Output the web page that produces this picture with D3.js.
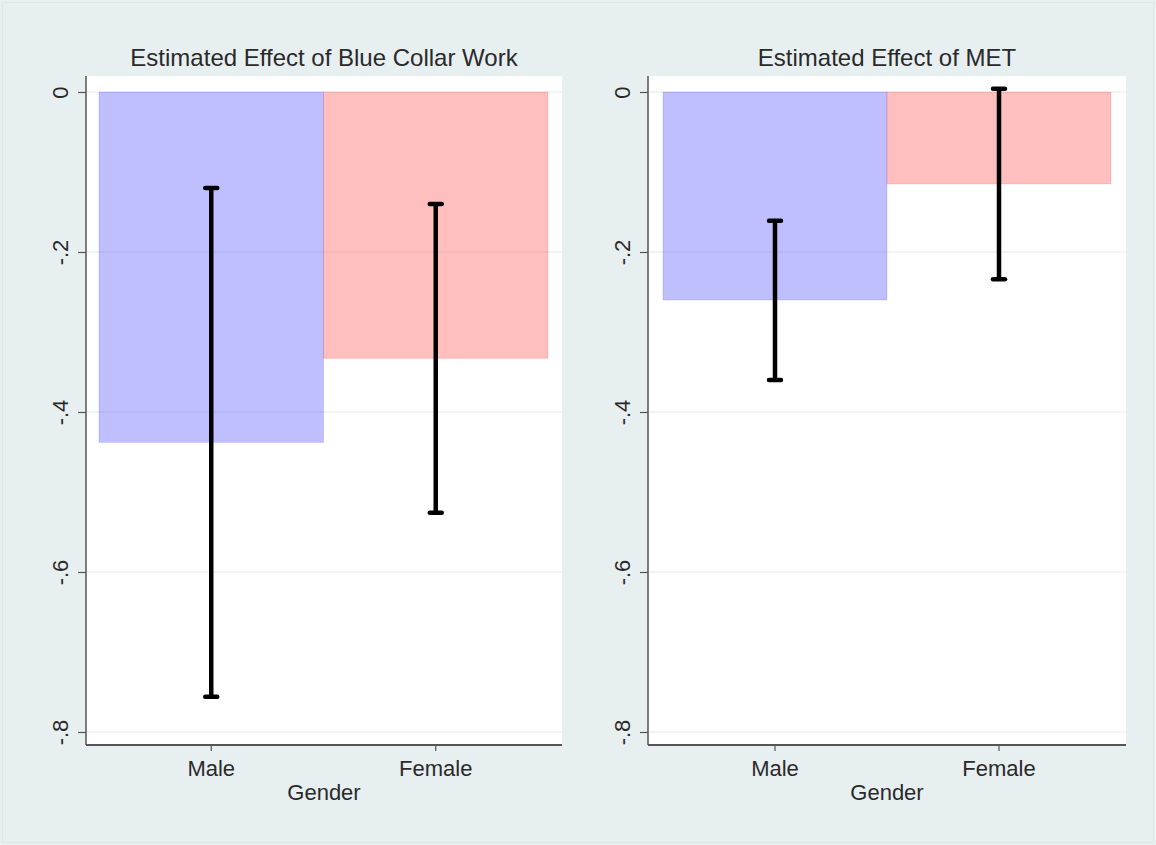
<!DOCTYPE html>
<html>
<head>
<meta charset="utf-8">
<script src="https://cdn.jsdelivr.net/npm/d3@7"></script>
<style>
  html, body { margin: 0; padding: 0; background: #e8eff1; }
  svg { display: block; font-family: "Liberation Sans", Arial, Helvetica, sans-serif; }
</style>
</head>
<body>
<svg id="chart" width="1156" height="845"></svg>
<script>
// ---- data ----
const categories = ["Male", "Female"];
const panelTitles = ["Estimated Effect of Blue Collar Work", "Estimated Effect of MET"];
const blueCollarEstimate = [-0.438, -0.333];
const blueCollarLower    = [-0.756, -0.526];
const blueCollarUpper    = [-0.120, -0.140];
const metEstimate = [-0.260, -0.115];
const metLower    = [-0.360, -0.234];
const metUpper    = [-0.161,  0.004];
const yTicks = [0, -0.2, -0.4, -0.6, -0.8];
const yTickLabels = ["0", "-.2", "-.4", "-.6", "-.8"];
const xAxisTitle = "Gender";
const barColors = ["#0000ff", "#ff0000"];

const panels = [
  { title: panelTitles[0], est: blueCollarEstimate, lo: blueCollarLower, hi: blueCollarUpper },
  { title: panelTitles[1], est: metEstimate, lo: metLower, hi: metUpper }
];

// ---- layout ----
const svg = d3.select("#chart");
svg.append("rect").attr("x", 0).attr("y", 0).attr("width", 1156).attr("height", 845).attr("fill", "#e8eff1");
svg.append("rect").attr("x", 2.5).attr("y", 2.5).attr("width", 1151).attr("height", 840)
  .attr("fill", "none").attr("stroke", "#dfe6e8").attr("stroke-width", 1);

const geo = [
  { axisX: 86,  right: 562,  barL: 99,  barR: 548 },
  { axisX: 648, right: 1126, barL: 663, barR: 1111 }
];
const plotTop = 76, plotBottom = 745;
const y = d3.scaleLinear().domain([0, -0.8]).range([92, 732]);
const textColor = "#2a2a2a";

panels.forEach((p, i) => {
  const g = geo[i];
  const gp = svg.append("g");
  const x = d3.scaleBand().domain(categories).range([g.barL, g.barR]).paddingInner(0).paddingOuter(0);

  // plot region
  gp.append("rect").attr("x", g.axisX).attr("y", plotTop)
    .attr("width", g.right - g.axisX).attr("height", plotBottom - plotTop).attr("fill", "#ffffff");

  // gridlines
  gp.selectAll("line.grid").data(yTicks).join("line").attr("class", "grid")
    .attr("x1", g.axisX).attr("x2", g.right)
    .attr("y1", d => y(d)).attr("y2", d => y(d))
    .attr("stroke", "#e6e9ea").attr("stroke-width", 1);

  // bars
  gp.selectAll("rect.bar").data(categories).join("rect").attr("class", "bar")
    .attr("x", d => x(d)).attr("width", x.bandwidth())
    .attr("y", (d, j) => Math.min(y(0), y(p.est[j])))
    .attr("height", (d, j) => Math.abs(y(p.est[j]) - y(0)))
    .attr("fill", (d, j) => barColors[j]).attr("fill-opacity", 0.25)
    .attr("stroke", (d, j) => barColors[j]).attr("stroke-opacity", 0.12).attr("stroke-width", 1);

  // error bars
  const cx = d => x(d) + x.bandwidth() / 2;
  gp.selectAll("line.err").data(categories).join("line").attr("class", "err")
    .attr("x1", cx).attr("x2", cx)
    .attr("y1", (d, j) => y(p.hi[j])).attr("y2", (d, j) => y(p.lo[j]))
    .attr("stroke", "#000").attr("stroke-width", 4.5);
  ["hi", "lo"].forEach(k => {
    gp.selectAll("line.cap" + k).data(categories).join("line").attr("class", "cap" + k)
      .attr("x1", d => cx(d) - 6).attr("x2", d => cx(d) + 6)
      .attr("y1", (d, j) => y(p[k][j])).attr("y2", (d, j) => y(p[k][j]))
      .attr("stroke", "#000").attr("stroke-width", 4.5).attr("stroke-linecap", "round");
  });

  // y axis
  const yAxis = d3.axisLeft(y).tickValues(yTicks).tickSize(8).tickSizeOuter(0)
    .tickFormat((d, j) => yTickLabels[j]);
  const ya = gp.append("g").attr("transform", `translate(${g.axisX},0)`).call(yAxis);
  ya.select(".domain").remove();
  ya.selectAll(".tick line").attr("stroke", "#555").attr("stroke-width", 1.2);
  ya.selectAll(".tick text")
    .attr("x", null).attr("dy", null)
    .attr("transform", "translate(-18,0) rotate(-90)")
    .attr("text-anchor", "middle")
    .attr("font-size", 22).attr("fill", textColor)
    .attr("font-family", "'Liberation Sans', Arial, sans-serif");
  gp.append("line").attr("x1", g.axisX).attr("x2", g.axisX).attr("y1", plotTop).attr("y2", plotBottom)
    .attr("stroke", "#555").attr("stroke-width", 1.5);

  // x axis
  const xAxis = d3.axisBottom(x).tickSize(6).tickSizeOuter(0);
  const xa = gp.append("g").attr("transform", `translate(0,${plotBottom})`).call(xAxis);
  xa.select(".domain").remove();
  xa.selectAll(".tick line").attr("stroke", "#555").attr("stroke-width", 1.2);
  xa.selectAll(".tick text").attr("dy", null).attr("y", 31)
    .attr("font-size", 22).attr("fill", textColor)
    .attr("font-family", "'Liberation Sans', Arial, sans-serif");
  gp.append("line").attr("x1", g.axisX).attr("x2", g.right).attr("y1", plotBottom).attr("y2", plotBottom)
    .attr("stroke", "#555").attr("stroke-width", 2);

  // axis title
  gp.append("text").attr("x", (g.axisX + g.right) / 2).attr("y", 800)
    .attr("text-anchor", "middle").attr("font-size", 22).attr("fill", textColor).text(xAxisTitle);

  // panel title
  gp.append("text").attr("x", (g.axisX + g.right) / 2).attr("y", 66)
    .attr("text-anchor", "middle").attr("font-size", 24).attr("fill", textColor).text(p.title);
});
</script>
</body>
</html>
